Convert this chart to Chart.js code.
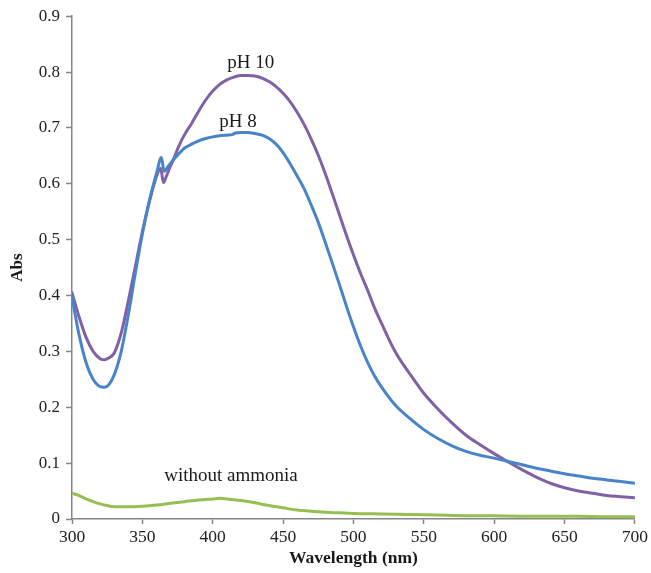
<!DOCTYPE html>
<html>
<head>
<meta charset="utf-8">
<script src="https://cdn.jsdelivr.net/npm/chart.js@4.4.1/dist/chart.umd.min.js"></script>
<style>
  html, body { margin: 0; padding: 0; background: #fff; }
  #wrap { width: 651px; height: 573px; position: relative; }
</style>
</head>
<body>
<div id="wrap"><canvas id="absChart"></canvas></div>
<script>
// wavelength (nm) and absorbance
const wlPH10 = [300, 305, 310, 315, 320, 323, 326, 330, 335, 340, 345, 350, 355, 360, 363, 365, 367, 369, 372, 376, 380, 385, 390, 395, 400, 405, 410, 415, 420, 425, 430, 435, 440, 445, 450, 455, 460, 465, 470, 475, 480, 485, 490, 495, 500, 505, 510, 515, 520, 530, 540, 550, 560, 570, 580, 590, 600, 610, 620, 630, 640, 650, 660, 670, 680, 690, 700];
const absPH10 = [0.405, 0.362, 0.325, 0.300, 0.287, 0.285, 0.288, 0.297, 0.333, 0.390, 0.452, 0.514, 0.568, 0.613, 0.628, 0.602, 0.613, 0.626, 0.643, 0.668, 0.688, 0.708, 0.730, 0.750, 0.766, 0.778, 0.786, 0.791, 0.794, 0.794, 0.793, 0.789, 0.783, 0.774, 0.762, 0.747, 0.728, 0.706, 0.680, 0.651, 0.618, 0.582, 0.545, 0.508, 0.473, 0.440, 0.410, 0.378, 0.350, 0.298, 0.260, 0.225, 0.197, 0.172, 0.150, 0.133, 0.117, 0.102, 0.088, 0.075, 0.064, 0.056, 0.050, 0.046, 0.042, 0.040, 0.038];

const wlPH8 = [300, 305, 310, 315, 320, 323, 326, 330, 335, 340, 345, 350, 355, 360, 363.5, 365.5, 368, 372, 376, 380, 385, 390, 395, 400, 405, 410, 414, 416, 420, 425, 430, 435, 440, 445, 450, 455, 460, 465, 470, 475, 480, 485, 490, 495, 500, 505, 510, 515, 520, 530, 540, 550, 560, 570, 580, 590, 600, 610, 620, 630, 640, 650, 660, 670, 680, 690, 700];
const absPH8 = [0.398, 0.330, 0.280, 0.250, 0.237, 0.236, 0.240, 0.258, 0.300, 0.365, 0.440, 0.510, 0.570, 0.618, 0.647, 0.622, 0.630, 0.643, 0.654, 0.664, 0.671, 0.677, 0.681, 0.684, 0.686, 0.687, 0.688, 0.691, 0.692, 0.692, 0.690, 0.687, 0.681, 0.671, 0.656, 0.636, 0.614, 0.591, 0.562, 0.531, 0.495, 0.458, 0.420, 0.381, 0.344, 0.310, 0.281, 0.256, 0.236, 0.203, 0.180, 0.160, 0.144, 0.131, 0.121, 0.114, 0.109, 0.103, 0.097, 0.091, 0.086, 0.081, 0.077, 0.073, 0.070, 0.067, 0.064];

const wlNoNH3 = [300, 305, 310, 315, 320, 325, 330, 335, 340, 350, 360, 370, 380, 390, 400, 405, 410, 420, 430, 440, 450, 460, 470, 480, 490, 500, 520, 540, 560, 580, 600, 620, 640, 660, 680, 700];
const absNoNH3 = [0.046, 0.042, 0.036, 0.031, 0.027, 0.024, 0.022, 0.022, 0.022, 0.023, 0.025, 0.028, 0.031, 0.034, 0.036, 0.037, 0.036, 0.033, 0.029, 0.024, 0.020, 0.016, 0.014, 0.012, 0.011, 0.010, 0.009, 0.008, 0.007, 0.006, 0.006, 0.005, 0.005, 0.005, 0.004, 0.004];

// curve labels, placed in data units
const labelText = ['pH 10', 'pH 8', 'without ammonia'];
const labelWl = [427, 418, 413];
const labelAbs = [0.816, 0.711, 0.077];

const serif = "'Liberation Serif', 'Times New Roman', serif";
const axisGray = '#868686';

function toPoints(xs, ys) {
    return xs.map((x, i) => ({ x: x, y: ys[i] }));
}

const curveLabels = {
    id: 'curveLabels',
    afterDatasetsDraw(chart) {
        const { ctx, scales } = chart;
        ctx.save();
        ctx.font = '19px ' + serif;
        ctx.fillStyle = '#1a1a1a';
        ctx.textAlign = 'center';
        ctx.textBaseline = 'middle';
        labelText.forEach((t, i) => {
            ctx.fillText(t, scales.x.getPixelForValue(labelWl[i]), scales.y.getPixelForValue(labelAbs[i]));
        });
        ctx.restore();
    }
};

const ctx = document.getElementById('absChart');
new Chart(ctx, {
    type: 'line',
    data: {
        datasets: [{
            label: 'without ammonia',
            data: toPoints(wlNoNH3, absNoNH3),
            borderColor: '#94c052',
            borderWidth: 3,
        }, {
            label: 'pH 8',
            data: toPoints(wlPH8, absPH8),
            borderColor: '#4a84c8',
            borderWidth: 3,
        }, {
            label: 'pH 10',
            data: toPoints(wlPH10, absPH10),
            borderColor: '#8061a6',
            borderWidth: 3,
        }]
    },
    options: {
        responsive: true,
        maintainAspectRatio: false,
        animation: false,
        layout: { padding: { top: 9, right: 15, left: 0, bottom: 0 } },
        elements: {
            point: { radius: 0 },
            line: { cubicInterpolationMode: 'monotone', borderCapStyle: 'round', borderJoinStyle: 'round' }
        },
        plugins: {
            legend: { display: false },
            tooltip: { enabled: false }
        },
        scales: {
            x: {
                type: 'linear',
                min: 300,
                max: 700,
                afterFit: s => { s.height = 54; },
                border: { color: axisGray, width: 1.5 },
                grid: { drawOnChartArea: false, drawTicks: true, tickLength: 5, tickColor: axisGray, tickWidth: 1.5 },
                ticks: {
                    stepSize: 50,
                    padding: 3,
                    color: '#222',
                    font: { family: serif, size: 17.5 },
                    maxRotation: 0
                },
                title: {
                    display: true,
                    text: 'Wavelength (nm)',
                    color: '#1a1a1a',
                    font: { family: serif, size: 17.5, weight: 'bold' },
                    padding: { top: 0, bottom: 4 }
                }
            },
            y: {
                min: 0,
                max: 0.9,
                afterFit: s => { s.width = 72; },
                border: { color: axisGray, width: 1.5 },
                grid: { drawOnChartArea: false, drawTicks: true, tickLength: 6, tickColor: axisGray, tickWidth: 1.5 },
                ticks: {
                    stepSize: 0.1,
                    padding: 6,
                    color: '#222',
                    font: { family: serif, size: 17 },
                    callback: v => (Math.abs(v) < 1e-9 ? '0' : v.toFixed(1))
                },
                title: {
                    display: true,
                    text: 'Abs',
                    color: '#1a1a1a',
                    font: { family: serif, size: 17, weight: 'bold' },
                    padding: { top: 7, bottom: 0 }
                }
            }
        }
    },
    plugins: [curveLabels]
});
</script>
</body>
</html>
